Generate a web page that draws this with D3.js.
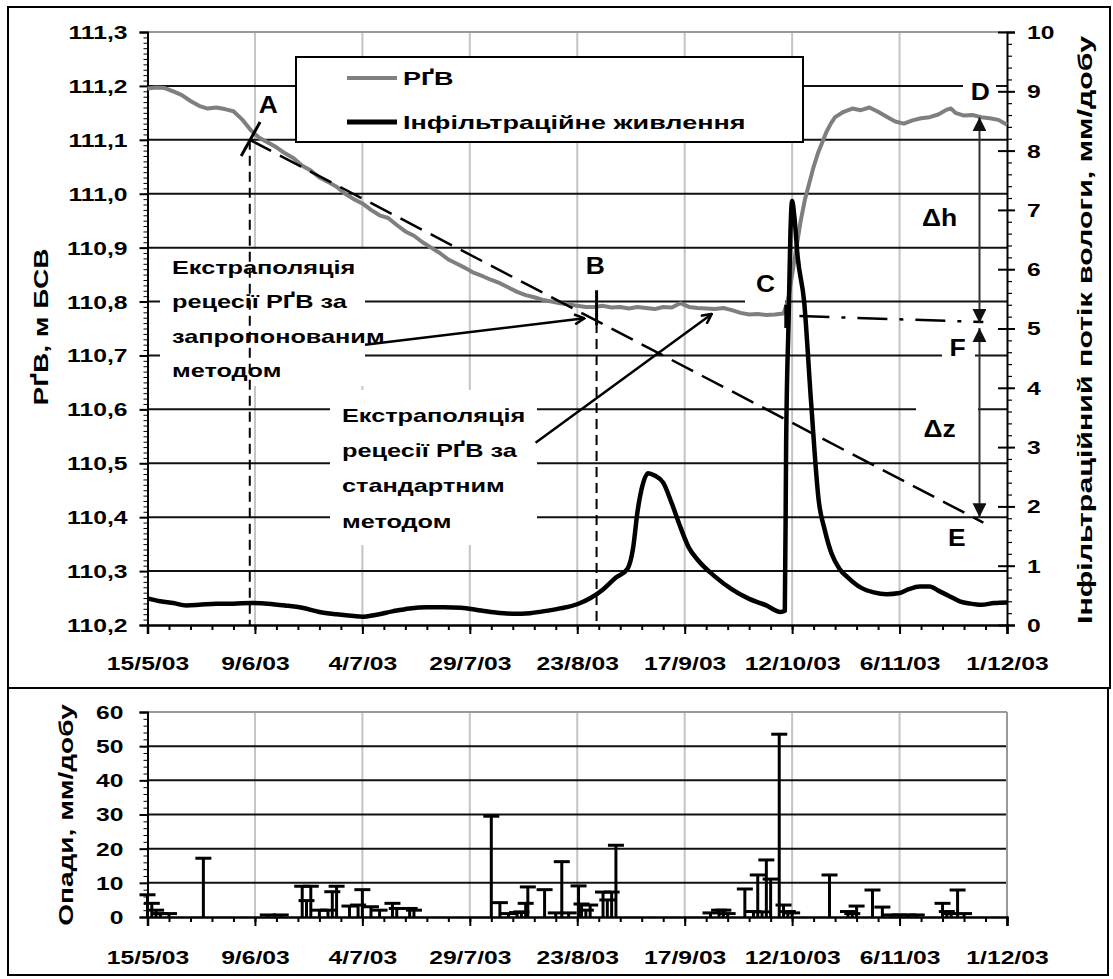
<!DOCTYPE html>
<html><head><meta charset="utf-8">
<script src="https://cdn.jsdelivr.net/npm/d3@7"></script>
<style>
html,body{margin:0;padding:0;background:#fff;}
svg text{font-family:"Liberation Sans",Arial,sans-serif;font-weight:bold;fill:#000;}
</style></head>
<body><svg id="c" width="1113" height="979"></svg>
<script>
// ---------- DATA (day offsets from 15/5/03) ----------
const gwlDays = [0,2,4,6,8,10,12,14,16,18,20,22,24,26,28,30,32,34,36,38,40,42,44,46,48,50,52,54,56,58,60,62,64,66,68,70,72,74,76,78,80,82,84,86,88,90,92,94,96,98,100,102,104,106,108,110,112,114,116,118,120,122,124,126,128,130,132,134,136,138,140,142,144,146,148,149,150,151,152,153,154,155,156,157,158,159,160,162,164,166,168,170,172,174,176,178,180,182,184,186,187,188,190,192,194,196,198,200];
const gwlValues = [111.195,111.197,111.196,111.19,111.183,111.172,111.163,111.158,111.16,111.157,111.153,111.138,111.118,111.104,111.095,111.086,111.075,111.066,111.052,111.043,111.03,111.022,111.013,111.0,110.99,110.982,110.97,110.96,110.955,110.942,110.93,110.922,110.91,110.9,110.89,110.878,110.87,110.862,110.853,110.847,110.84,110.834,110.826,110.818,110.812,110.808,110.803,110.8,110.797,110.795,110.792,110.79,110.79,110.792,110.789,110.79,110.787,110.79,110.788,110.786,110.79,110.789,110.797,110.79,110.788,110.787,110.786,110.788,110.784,110.779,110.776,110.777,110.775,110.776,110.778,110.8,110.85,110.9,110.95,110.99,111.02,111.05,111.075,111.095,111.115,111.13,111.142,111.152,111.158,111.155,111.16,111.152,111.143,111.134,111.13,111.136,111.14,111.142,111.147,111.156,111.158,111.15,111.145,111.146,111.142,111.14,111.137,111.128];

const infDays = [0,3,6,9,12,16,20,24,28,32,36,40,44,48,50,53,57,61,65,69,73,77,81,85,89,92,96,100,103,106,109,111.7,113,114,115,116.5,118,120,122,124,126,128,132,136,140,144,147.3,148.3,148.6,149.2,149.6,150,150.5,151.3,152.8,154.4,156.2,157.6,159.2,161,163,166,169,172,175,177,179.7,182,184,186.5,189,191.5,194,197,200];
const infValues = [0.45,0.4,0.37,0.33,0.34,0.36,0.36,0.37,0.36,0.33,0.29,0.22,0.18,0.15,0.14,0.17,0.23,0.28,0.3,0.3,0.29,0.25,0.21,0.19,0.2,0.23,0.28,0.35,0.45,0.6,0.8,0.95,1.3,1.9,2.3,2.56,2.52,2.4,2.05,1.65,1.3,1.1,0.82,0.6,0.44,0.33,0.22,0.24,3.0,5.2,6.6,7.15,6.9,6.2,5.45,3.77,2.09,1.6,1.2,0.95,0.8,0.63,0.55,0.52,0.54,0.6,0.65,0.65,0.58,0.49,0.4,0.36,0.34,0.37,0.38];

// daily rainfall, mm/day (days and values paired by position)
const rainDays   = [0,  1,2,3,5, 13,  28, 31, 36,37, 38,40,42,43, 44,47, 49, 50,52,54,57,58, 61, 62,80,  82, 84,86, 87, 88,88.5,92.4,95, 96.4,98, 100.3,101,102,103,106,107,108,109,131,133,134,135,139,141,142, 143,144, 145, 147, 148,149,150,158.7,163,164,165,168.7,171,173,175,177,179,185,186,187,188.5,190];
const rainValues = [6.5,4,2,1,1, 17.2,0.6,0.6,9, 4.8,9, 2, 2, 7.4,9, 3.2,3.5,8, 3, 2, 4, 2.5,2.5,2, 29.5,4.2,1, 1.3,1.5,4, 8.8, 8,   1.2,16.2,1.2,9.1, 3.8,2,  3.5,7.3,5,  7.3,21, 1.2,2,  2,  1,  8.2,1.6,12.3,1.5,16.7,11.1,53.5,3.5,1.6,1.2,12.3, 1.6,1,  3.2,7.9,  2.9,0.6,0.6,0.6,0.6,4,  1.6,1,  7.9,  1];

const xTickDays = [0,25,50,75,100,125,150,175,200];
const xTickLabels = ['15/5/03','9/6/03','4/7/03','29/7/03','23/8/03','17/9/03','12/10/03','6/11/03','1/12/03'];
const leftTickValues = [110.2,110.3,110.4,110.5,110.6,110.7,110.8,110.9,111.0,111.1,111.2,111.3];
const leftTickLabels = ['110,2','110,3','110,4','110,5','110,6','110,7','110,8','110,9','111,0','111,1','111,2','111,3'];
const rightTickValues = [0,1,2,3,4,5,6,7,8,9,10];
const rainTickValues = [0,10,20,30,40,50,60];

// annotation geometry in data units [day, level]
const standardLine = [[23.8,111.10],[194.5,110.39]];
const dashDotLine = [[151.7,110.773],[194.5,110.762]];
const arrowProposed = [[50.6,110.72],[101.7,110.769]];
const arrowStandard = [[90.3,110.538],[131.3,110.777]];
const dhArrow = [[193.6,111.142],[193.6,110.760]];
const dzArrow = [[193.6,110.751],[193.6,110.40]];
const vDashA = [[23.8,111.10],[23.8,110.2]];
const vDashB = [[104.5,110.76],[104.5,110.2]];
const markA = [[21.8,111.07],[26.2,111.133]];
const markB = [[104.5,110.821],[104.5,110.756]];
const markC = [[148.7,110.794],[148.7,110.751]];
const pointLabels = [
  {t:'A',d:28.1,v:111.166},{t:'B',d:104.2,v:110.866},{t:'C',d:143.8,v:110.833},
  {t:'D',d:193.8,v:111.189},{t:'E',d:188.3,v:110.361},{t:'F',d:188.5,v:110.714},
  {t:'\u0394h',d:184.3,v:110.955},{t:'\u0394z',d:184.3,v:110.565}
];
const legendNames = ['РҐВ','Інфільтраційне живлення'];
const note1 = ['Екстраполяція','рецесії РҐВ за','запропонованим','методом'];
const note2 = ['Екстраполяція','рецесії РҐВ за','стандартним','методом'];

// ---------- SETUP ----------
const svg = d3.select('#c');
const startMs = Date.UTC(2003,4,15);
const dayToDate = d => new Date(startMs + d*86400000);
const x = d3.scaleUtc().domain([dayToDate(0), dayToDate(200)]).range([147.5,1007]);
const yL = d3.scaleLinear().domain([110.2,111.3]).range([625,32]);
const yR = d3.scaleLinear().domain([0,10]).range([625,32]);
const yB = d3.scaleLinear().domain([0,60]).range([917,712]);
const X = d => x(dayToDate(d));
const SX = 1.37;
function stretch(sel, f){ sel.each(function(){ const L=this.getComputedTextLength(); this.setAttribute('textLength',(L*f).toFixed(1)); this.setAttribute('lengthAdjust','spacingAndGlyphs');}); }

svg.append('rect').attr('width',1113).attr('height',979).attr('fill','#fff');
svg.append('rect').attr('x',8).attr('y',7).attr('width',1102).attr('height',681).attr('fill','none').attr('stroke','#000').attr('stroke-width',2);
svg.append('rect').attr('x',8).attr('y',688).attr('width',1100).attr('height',287).attr('fill','none').attr('stroke','#000').attr('stroke-width',2);

// ---------- TOP CHART ----------
const gTop = svg.append('g');
gTop.selectAll('.vg').data(xTickDays.slice(1,-1)).join('line')
  .attr('x1',d=>X(d)).attr('x2',d=>X(d)).attr('y1',yL(111.3)).attr('y2',yL(110.2))
  .attr('stroke','#c4c4c4').attr('stroke-width',2);
gTop.selectAll('.hg').data(leftTickValues.slice(1)).join('line')
  .attr('x1',147.5).attr('x2',1007).attr('y1',d=>yL(d)).attr('y2',d=>yL(d))
  .attr('stroke',d=>d>111.25?'#999':'#111').attr('stroke-width',2);

const boxes = [[160,249,205,137],[330,390,207,155],[296,57,507,85],[745,268,40,36],[963,78,33,26],[942,333,33,30],[916,404,62,42]];
gTop.selectAll('.bx').data(boxes).join('rect')
  .attr('x',d=>d[0]).attr('y',d=>d[1]).attr('width',d=>d[2]).attr('height',d=>d[3]).attr('fill','#fff');
gTop.append('rect').attr('x',296).attr('y',57).attr('width',507).attr('height',85).attr('fill','none').attr('stroke','#000').attr('stroke-width',2);
gTop.append('line').attr('x1',347).attr('x2',397).attr('y1',78).attr('y2',78).attr('stroke','#808080').attr('stroke-width',4);
gTop.append('line').attr('x1',347).attr('x2',397).attr('y1',122).attr('y2',122).attr('stroke','#000').attr('stroke-width',5);
const lg = gTop.selectAll('.lt').data(legendNames).join('text')
  .attr('x',403).attr('y',(d,i)=>[78,122][i]).attr('dy','0.36em').attr('font-size',19).text(d=>d);
stretch(lg,1.42);

const n1 = gTop.selectAll('.n1').data(note1).join('text').attr('x',172).attr('y',(d,i)=>267+i*34.5).attr('dy','0.36em').attr('font-size',19).text(d=>d);
stretch(n1,1.33);
const n2 = gTop.selectAll('.n2').data(note2).join('text').attr('x',342).attr('y',(d,i)=>415+i*35.3).attr('dy','0.36em').attr('font-size',19).text(d=>d);
stretch(n2,1.33);

const fmtL = d => leftTickLabels[leftTickValues.findIndex(v=>Math.abs(v-d)<1e-6)];
const minorL = d3.range(0,111).map(i=>110.2+i*0.01);
gTop.append('g').attr('transform','translate(147.5,0)').call(d3.axisLeft(yL).tickValues(minorL).tickSize(4).tickFormat(''))
  .call(g=>{g.select('.domain').remove(); g.selectAll('line').attr('stroke-width',1);});
const axL = gTop.append('g').attr('transform','translate(147.5,0)').call(d3.axisLeft(yL).tickValues(leftTickValues).tickSize(8).tickPadding(12).tickFormat(fmtL));
axL.select('.domain').attr('stroke-width',2);
axL.selectAll('line').attr('stroke-width',2);
axL.selectAll('text').attr('font-size',18).attr('font-family',null).attr('dy','0.36em');
stretch(axL.selectAll('text'),SX);

const minorR = d3.range(0,51).map(i=>i*0.2);
gTop.append('g').attr('transform','translate(1007,0)').call(d3.axisRight(yR).tickValues(minorR).tickSize(5).tickFormat(''))
  .call(g=>{g.select('.domain').remove(); g.selectAll('line').attr('stroke-width',1.2);});
gTop.append('g').attr('transform','translate(1007,0)').call(d3.axisLeft(yR).tickValues(rightTickValues).tickSize(9).tickFormat(''))
  .call(g=>{g.select('.domain').remove(); g.selectAll('line').attr('stroke-width',2);});
const axR = gTop.append('g').attr('transform','translate(1007,0)').call(d3.axisRight(yR).tickValues(rightTickValues).tickSize(8).tickPadding(12));
axR.select('.domain').attr('stroke-width',2);
axR.selectAll('line').attr('stroke-width',2);
axR.selectAll('text').attr('font-size',18).attr('font-family',null).attr('dy','0.36em');
stretch(axR.selectAll('text'),SX);

const minorX = d3.range(0,201,5).map(dayToDate);
gTop.append('g').attr('transform','translate(0,625)').call(d3.axisBottom(x).tickValues(minorX).tickSize(5).tickFormat(''))
  .call(g=>{g.select('.domain').remove(); g.selectAll('line').attr('stroke-width',2);});
const axX = gTop.append('g').attr('transform','translate(0,625)').call(d3.axisBottom(x).tickValues(xTickDays.map(dayToDate)).tickSize(9).tickPadding(23).tickFormat((d,i)=>xTickLabels[i]));
axX.select('.domain').attr('stroke-width',2.5);
axX.selectAll('line').attr('stroke-width',2);
axX.selectAll('text').attr('font-size',18).attr('font-family',null);
stretch(axX.selectAll('text'),SX);

const tL = gTop.append('text').attr('transform','translate(48,327) rotate(-90)').attr('text-anchor','middle').attr('font-size',20).text('РҐВ, м БСВ');
stretch(tL,1.4);
const tR = gTop.append('text').attr('transform','translate(1092,330) rotate(-90)').attr('text-anchor','middle').attr('font-size',20).text('Інфільтраційний потік вологи, мм/добу');
tR.attr('textLength',588).attr('lengthAdjust','spacingAndGlyphs');

const lineL = d3.line().x(d=>X(d[0])).y(d=>yL(d[1]));
gTop.append('path').datum(gwlDays.map((d,i)=>[d,gwlValues[i]])).attr('d',lineL)
  .attr('fill','none').attr('stroke','#7f7f7f').attr('stroke-width',4).attr('stroke-linejoin','round');
const lineR = d3.line().x(d=>X(d[0])).y(d=>yR(d[1])).curve(d3.curveMonotoneX);
gTop.append('path').datum(infDays.map((d,i)=>[d,infValues[i]])).attr('d',lineR)
  .attr('fill','none').attr('stroke','#000').attr('stroke-width',4.5).attr('stroke-linejoin','round');

const defs = svg.append('defs');
defs.append('marker').attr('id','open').attr('viewBox','0 0 12 12').attr('refX',11).attr('refY',6)
  .attr('markerWidth',12).attr('markerHeight',12).attr('markerUnits','userSpaceOnUse').attr('orient','auto')
  .append('path').attr('d','M1,1 L11,6 L1,11').attr('fill','none').attr('stroke','#000').attr('stroke-width',2.5);
defs.append('marker').attr('id','tri').attr('viewBox','0 0 14 14').attr('refX',14).attr('refY',7)
  .attr('markerWidth',14).attr('markerHeight',14).attr('markerUnits','userSpaceOnUse').attr('orient','auto-start-reverse')
  .append('path').attr('d','M0,0 L14,7 L0,14 Z').attr('fill','#111');
function seg(p, stroke, w, dash){ return gTop.append('line').attr('x1',X(p[0][0])).attr('y1',yL(p[0][1])).attr('x2',X(p[1][0])).attr('y2',yL(p[1][1]))
  .attr('stroke',stroke).attr('stroke-width',w).attr('stroke-dasharray',dash||null); }
seg(vDashA,'#000',2,'10,6');
seg(vDashB,'#000',2,'10,6');
seg(standardLine,'#000',2.5,'24,10');
seg(dashDotLine,'#000',2.5,'30,12,4,12');
seg(arrowProposed,'#000',2.5).attr('marker-end','url(#open)');
seg(arrowStandard,'#000',2.5).attr('marker-end','url(#open)');
seg(dhArrow,'#333',2).attr('marker-end','url(#tri)').attr('marker-start','url(#tri)');
seg(dzArrow,'#333',2).attr('marker-end','url(#tri)').attr('marker-start','url(#tri)');
seg(markA,'#000',3);
seg(markB,'#000',3);
seg(markC,'#000',4.5);
const pl = gTop.selectAll('.pl').data(pointLabels).join('text').attr('x',d=>X(d.d)).attr('y',d=>yL(d.v)).attr('dy','0.36em')
  .attr('text-anchor','middle').attr('font-size',23).text(d=>d.t);
stretch(pl,1.15);

// ---------- BOTTOM CHART ----------
const gBot = svg.append('g');
gBot.selectAll('.vg').data(xTickDays.slice(1,-1)).join('line')
  .attr('x1',d=>X(d)).attr('x2',d=>X(d)).attr('y1',yB(60)).attr('y2',yB(0)).attr('stroke','#c4c4c4').attr('stroke-width',2);
gBot.selectAll('.hg').data(rainTickValues.slice(1)).join('line')
  .attr('x1',147.5).attr('x2',1007).attr('y1',d=>yB(d)).attr('y2',d=>yB(d))
  .attr('stroke',d=>d===60?'#999':'#111').attr('stroke-width',2);
gBot.append('line').attr('x1',1007).attr('x2',1007).attr('y1',yB(60)).attr('y2',yB(0)).attr('stroke','#999').attr('stroke-width',2);

const rain = rainDays.map((d,i)=>[d,rainValues[i]]).filter(d=>d[1]!=null);
gBot.selectAll('.rv').data(rain).join('line').attr('x1',d=>X(d[0])).attr('x2',d=>X(d[0])).attr('y1',yB(0)).attr('y2',d=>yB(d[1]))
  .attr('stroke','#000').attr('stroke-width',3);
gBot.selectAll('.rc').data(rain).join('line').attr('x1',d=>X(d[0])-8).attr('x2',d=>X(d[0])+8).attr('y1',d=>yB(d[1])).attr('y2',d=>yB(d[1]))
  .attr('stroke','#000').attr('stroke-width',3);

gBot.append('g').attr('transform','translate(147.5,0)').call(d3.axisLeft(yB).tickValues(d3.range(0,61,2)).tickSize(4).tickFormat(''))
  .call(g=>{g.select('.domain').remove(); g.selectAll('line').attr('stroke-width',1);});
const bL = gBot.append('g').attr('transform','translate(147.5,0)').call(d3.axisLeft(yB).tickValues(rainTickValues).tickSize(8).tickPadding(16));
bL.select('.domain').attr('stroke-width',2);
bL.selectAll('line').attr('stroke-width',2);
bL.selectAll('text').attr('font-size',18).attr('font-family',null).attr('dy','0.36em');
stretch(bL.selectAll('text'),SX);
gBot.append('g').attr('transform','translate(0,917)').call(d3.axisBottom(x).tickValues(minorX).tickSize(5).tickFormat(''))
  .call(g=>{g.select('.domain').remove(); g.selectAll('line').attr('stroke-width',2);});
const bX = gBot.append('g').attr('transform','translate(0,917)').call(d3.axisBottom(x).tickValues(xTickDays.map(dayToDate)).tickSize(9).tickPadding(25).tickFormat((d,i)=>xTickLabels[i]));
bX.select('.domain').attr('stroke-width',2.5);
bX.selectAll('line').attr('stroke-width',2);
bX.selectAll('text').attr('font-size',18).attr('font-family',null);
stretch(bX.selectAll('text'),SX);
const tB = gBot.append('text').attr('transform','translate(73,815) rotate(-90)').attr('text-anchor','middle').attr('font-size',20).text('Опади, мм/добу');
stretch(tB,1.4);
</script></body></html>
